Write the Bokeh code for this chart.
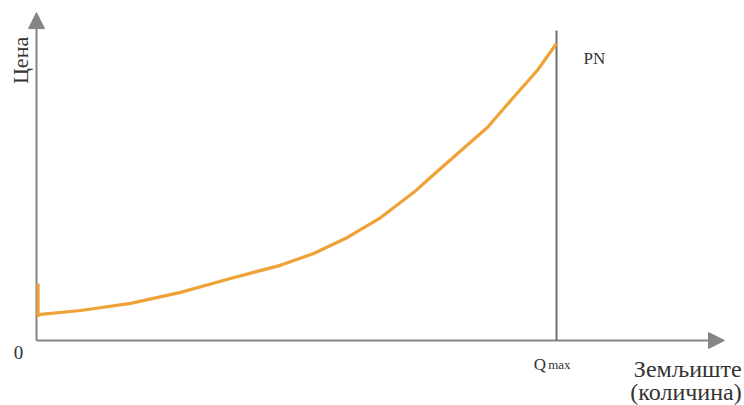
import math
from bokeh.plotting import figure
from bokeh.models import Range1d, Arrow, NormalHead, Label
from bokeh.embed import file_html
from bokeh.resources import INLINE

# Land price curve (quantity in % of Qmax, price in % of price at Qmax)
quantity = [0.3, 0.3, 0.8, 8.5, 18.1, 27.7, 37.3, 46.9, 53.3, 59.8, 66.2, 72.5, 77.7, 86.7, 91.7, 96.3, 100.0]
price = [19.2, 8.4, 8.8, 10.1, 12.5, 16.2, 20.9, 25.3, 29.3, 34.7, 41.4, 49.8, 57.9, 71.7, 81.8, 90.9, 100.0]
q_max = 100.0
y_axis_top = 110.4
x_axis_end = 132.3
pn_top = 104.4

GRAY = "#858585"
ORANGE = "#EFA236"
FONT = "'Liberation Serif', 'Times New Roman', serif"

p = figure(width=744, height=405, output_backend="svg", toolbar_location=None,
           x_range=Range1d(-6.923, 136.15), y_range=Range1d(-21.89, 114.48),
           min_border=0)
p.axis.visible = False
p.grid.visible = False
p.outline_line_color = None

# axes with arrows
p.add_layout(Arrow(x_start=0, y_start=0, x_end=0, y_end=y_axis_top,
                   line_color=GRAY, line_width=2,
                   end=NormalHead(size=16, fill_color=GRAY, line_color=GRAY)))
p.add_layout(Arrow(x_start=0, y_start=0, x_end=x_axis_end, y_end=0,
                   line_color=GRAY, line_width=2,
                   end=NormalHead(size=16, fill_color=GRAY, line_color=GRAY)))

# vertical PN line at Qmax
p.segment(x0=[q_max], y0=[0], x1=[q_max], y1=[pn_top], line_color="#6E6E6E", line_width=2,
          level="overlay")

# price curve
p.line(quantity, price, line_color=ORANGE, line_width=3.2, line_join="round", level="overlay")

def lab(x, y, text, size, align="left", baseline="middle", angle=0.0, color="#333333"):
    p.add_layout(Label(x=x, y=y, text=text, text_font=FONT, text_font_size=f"{size}px",
                       text_align=align, text_baseline=baseline, angle=angle,
                       text_color=color))

lab(-3.1, 94.3, "Цена", 22, align="center", angle=math.pi / 2)
lab(-3.46, -4.0, "0", 19, align="center")
lab(105.2, 94.9, "PN", 17)
lab(95.6, -8.1, "Q", 17, baseline="alphabetic")
lab(98.4, -8.1, "max", 13, baseline="alphabetic")
lab(135.6, -9.6, "Земљиште", 24, align="right")
lab(135.6, -17.4, "(количина)", 24, align="right")

open("out.html", "w").write(file_html(p, INLINE))
